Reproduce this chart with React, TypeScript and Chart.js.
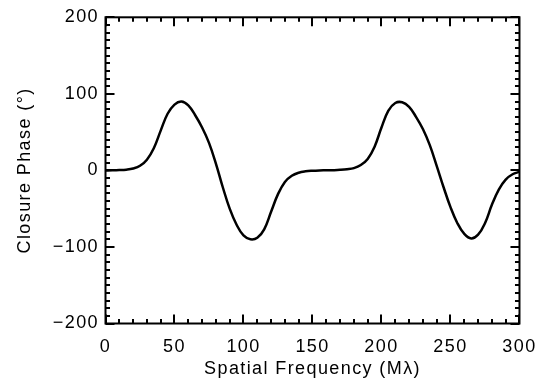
import React, { useEffect, useRef } from "react";
import { Chart, registerables } from "chart.js";

Chart.register(...registerables);

const freqs = [0, 5, 10, 15, 20, 25, 30, 35, 40, 45, 50, 55, 60, 65, 70, 75, 80, 85, 90, 95, 100, 105, 110, 115, 120, 125, 130, 135, 140, 145, 150, 155, 160, 165, 170, 175, 180, 185, 190, 195, 200, 205, 210, 215, 220, 225, 230, 235, 240, 245, 250, 255, 260, 265, 270, 275, 280, 285, 290, 295, 300];
const phases = [0, 0.1, 0.4, 1, 2.5, 6, 14, 29, 52, 74, 86, 90, 85, 72, 56, 36, 9, -22, -50, -71, -85, -90, -88, -77, -54, -31, -15, -7, -3, -1.2, -0.4, 0, 0.1, 0.3, 0.7, 1.5, 3, 7, 15, 31, 56, 78, 88, 89, 83, 70, 54, 33, 6, -22, -48, -69, -83, -89, -84, -69, -45, -25, -12, -5, -2];

const xTicks = [0, 50, 100, 150, 200, 250, 300];
const yTicks = [-200, -100, 0, 100, 200];
const xTitle = "Spatial Frequency (M\u03bb)";
const yTitle = "Closure Phase (\u00b0)";

const FONT = "'Liberation Sans', Arial, Helvetica, sans-serif";
const FSIZE = 18;

const spacingPlugin = {
  id: "spacing",
  beforeDraw(chart: any) {
    chart.ctx.letterSpacing = "1.4px";
  },
};

const framePlugin = {
  id: "frameTicks",
  afterDraw(chart: any) {
    const { ctx, chartArea: a, scales } = chart;
    const xs = scales.x;
    const ys = scales.y;
    ctx.save();
    ctx.strokeStyle = "#000";
    ctx.lineWidth = 2;
    ctx.lineCap = "butt";
    ctx.beginPath();
    for (let v = xTicks[0]; v <= xTicks[xTicks.length - 1]; v += 10) {
      const px = Math.round(xs.getPixelForValue(v));
      const len = v % 50 === 0 ? 9 : 4.5;
      ctx.moveTo(px, a.bottom);
      ctx.lineTo(px, a.bottom - len);
      ctx.moveTo(px, a.top);
      ctx.lineTo(px, a.top + len);
    }
    for (let v = yTicks[0]; v <= yTicks[yTicks.length - 1]; v += 10) {
      const py = Math.round(ys.getPixelForValue(v));
      const len = v % 100 === 0 ? 9 : 4.5;
      ctx.moveTo(a.left, py);
      ctx.lineTo(a.left + len, py);
      ctx.moveTo(a.right, py);
      ctx.lineTo(a.right - len, py);
    }
    ctx.stroke();
    ctx.strokeRect(a.left, a.top, a.right - a.left, a.bottom - a.top);
    ctx.restore();
  },
};

export default function App() {
  const ref = useRef<HTMLCanvasElement>(null);
  useEffect(() => {
    document.body.style.margin = "0";
    const canvas = ref.current!;
    const chart = new Chart(canvas, {
      type: "line",
      data: {
        datasets: [
          {
            data: freqs.map((f, i) => ({ x: f, y: phases[i] })),
            borderColor: "#000",
            borderWidth: 2.5,
            pointRadius: 0,
            tension: 0.4,
            fill: false,
          },
        ],
      },
      options: {
        animation: false,
        responsive: false,
        devicePixelRatio: 1,
        layout: { padding: { left: 0, top: 14, right: 26, bottom: 3 } },
        plugins: { legend: { display: false }, tooltip: { enabled: false } },
        scales: {
          x: {
            type: "linear",
            min: 0,
            max: 300,
            afterBuildTicks: (s: any) => {
              s.ticks = xTicks.map((v) => ({ value: v }));
            },
            afterFit: (s: any) => {
              s.height = 56.5;
            },
            grid: { display: false, drawTicks: false },
            border: { display: false },
            ticks: {
              autoSkip: false,
              maxRotation: 0,
              padding: 12.5,
              color: "#000",
              font: { family: FONT, size: FSIZE },
            },
            title: {
              display: true,
              text: xTitle,
              color: "#000",
              font: { family: FONT, size: FSIZE },
              padding: { top: 0, bottom: 0 },
            },
          },
          y: {
            type: "linear",
            min: -200,
            max: 200,
            afterBuildTicks: (s: any) => {
              s.ticks = yTicks.map((v) => ({ value: v }));
            },
            afterFit: (s: any) => {
              s.width = 105.5;
            },
            grid: { display: false, drawTicks: false },
            border: { display: false },
            ticks: {
              padding: 6.5,
              color: "#000",
              font: { family: FONT, size: FSIZE },
              callback: (v: any) => String(v).replace("-", "\u2212"),
            },
            title: {
              display: true,
              text: yTitle,
              color: "#000",
              font: { family: FONT, size: FSIZE },
              padding: { top: 14, bottom: 0 },
            },
          },
        },
      },
      plugins: [spacingPlugin, framePlugin],
    } as any);
    return () => chart.destroy();
  }, []);
  return (
    <div style={{ width: 547, height: 383, background: "#fff" }}>
      <canvas ref={ref} width={547} height={383} style={{ display: "block" }} />
    </div>
  );
}
